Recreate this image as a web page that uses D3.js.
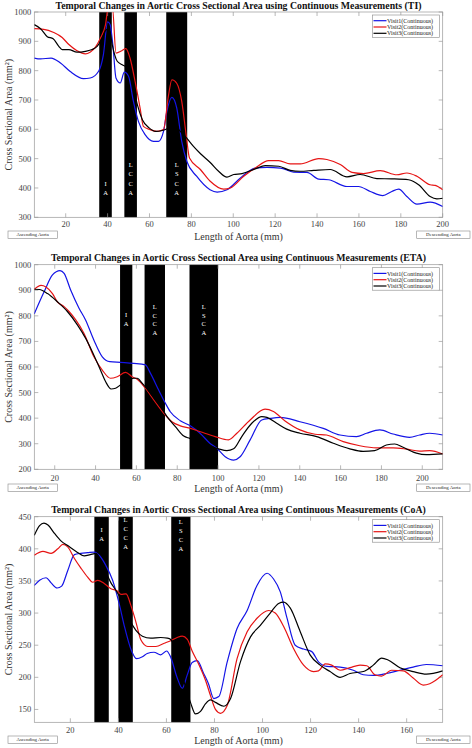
<!DOCTYPE html>
<html><head><meta charset="utf-8">
<script src="https://cdn.jsdelivr.net/npm/d3@7"></script>
<style>body{margin:0;background:#fff}svg{display:block}</style>
</head><body><svg id="c" width="472" height="748"></svg>
<script>
// ---------- DATA ----------
const seriesNames = ["Visit1(Continuous)", "Visit2(Continuous)", "Visit3(Continuous)"];
const xAxisLabel = "Length of Aorta (mm)";
const yAxisLabel = "Cross Sectional Area (mm²)";
const startLabel = "Ascending Aorta";
const endLabel = "Descending Aorta";

// Panel 1 (TI)
const tiTitle = "Temporal Changes in Aortic Cross Sectional Area using Continuous Measurements (TI)";
const tiXDomain = [5, 200];
const tiYDomain = [300, 1000];
const tiXTicks = [20, 40, 60, 80, 100, 120, 140, 160, 180, 200];
const tiYTicks = [300, 400, 500, 600, 700, 800, 900, 1000];
const tiBranches = [["IA", 36, 42], ["LCCA", 48, 54], ["LSCA", 68, 78]];
const tiVisit1 = [[5,843],[8,840],[13,843],[17.5,826],[22,798],[28.5,773],[31.7,775],[35.7,798],[38,855],[40,966],[41.2,957],[42.5,889],[44,775],[46,758],[48,795],[50,781],[52.3,696],[54.7,627],[57.9,582],[61.9,559],[64.3,559],[66.7,593],[68.3,661],[70.7,709],[73,673],[75.4,559],[77.8,491],[82.5,440],[88.9,394],[92.3,386],[97,394],[103.4,434],[110.5,468],[116.1,470],[122.5,468],[128.8,454],[135.2,453],[140.8,430],[145.5,428],[154.3,405],[159.8,405],[165.4,388],[171.4,374],[175.7,388],[179,396],[182.9,371],[187.7,345],[194,352],[200,337]];
const tiVisit2 = [[5,943],[9.5,941],[14.3,930],[18.3,913],[21.5,889],[25.4,868],[29.4,857],[31.8,864],[34.2,880],[36.6,911],[39,957],[40.3,1015],[42.3,1015],[44,860],[46.8,868],[48.7,875],[50.7,843],[53.1,764],[55.5,673],[57.1,610],[60.3,599],[63.5,593],[66.7,599],[69,712],[70.7,769],[73,757],[75.4,695],[77.5,582],[79.1,502],[84.3,463],[89,423],[95.4,396],[98.6,400],[105,440],[110.5,468],[116.9,493],[121.7,493],[127.2,482],[132,482],[140.8,500],[144.7,497],[151.1,480],[156.7,453],[162.2,449],[170.2,459],[178.1,445],[182.9,451],[187.7,440],[194,411],[196.4,409],[200,394]];
const tiVisit3 = [[5,957],[8,943],[11.2,916],[14,909],[16.7,883],[18.3,872],[21.5,872],[25.4,863],[29.4,866],[32.6,872],[35,883],[37.4,911],[39.5,940],[41,935],[42.2,889],[44.6,832],[47,820],[49.5,809],[51.8,764],[54.2,684],[56.6,633],[59.8,605],[63,593],[66,596],[68.4,602],[71.5,616],[74.7,593],[77.8,570],[81,542],[84.5,516],[89,487],[93,457],[97,437],[100.2,446],[104.2,449],[110.5,465],[115.3,476],[121.7,474],[127.2,460],[132,457],[138.4,460],[146.3,463],[154.3,438],[160.6,446],[168.6,432],[175.7,431],[183.7,428],[188.5,411],[194,371],[197.2,363],[200,365]];

// Panel 2 (ETA)
const etaTitle = "Temporal Changes in Aortic Cross Sectional Area using Continuous Measurements (ETA)";
const etaXDomain = [10, 210];
const etaYDomain = [200, 1000];
const etaXTicks = [20, 40, 60, 80, 100, 120, 140, 160, 180, 200];
const etaYTicks = [200, 300, 400, 500, 600, 700, 800, 900, 1000];
const etaBranches = [["IA", 52, 58], ["LCCA", 64, 74], ["LSCA", 86, 100]];
const etaVisit1 = [[10,808],[14.8,894],[18.9,960],[22.6,977],[24.6,966],[27.8,901],[31.9,830],[35.1,784],[39.2,705],[43.3,640],[47,621],[52.2,618],[58.7,614],[64.4,608],[66.9,575],[70.9,510],[74.2,458],[76.6,425],[81.5,390],[86.4,370],[91.3,340],[96.1,301],[99.4,282],[103.5,249],[107.6,236],[110.8,249],[115.7,315],[121.4,393],[125.5,399],[130.4,403],[140.1,386],[151.5,360],[159.7,334],[167.8,328],[172.7,341],[179.2,354],[185.7,338],[193.8,325],[198.7,334],[203.6,341],[210,334]];
const etaVisit2 = [[10,904],[13.3,919],[15.7,913],[18.9,887],[21.3,855],[24.6,836],[27,817],[30.3,784],[34.3,732],[39.2,640],[43.3,588],[47.3,556],[50.6,562],[54.7,579],[57.9,562],[60.4,552],[64.4,517],[68.5,471],[73.4,419],[77.4,386],[81.5,370],[86.4,360],[91.3,347],[98.6,328],[105.1,315],[109.2,341],[115.7,393],[123,435],[127.1,426],[132.8,389],[140.1,354],[147.5,337],[153.1,334],[161.3,308],[169.4,292],[177.6,284],[185.7,284],[192.2,279],[198.7,271],[203.6,273],[210,260]];
const etaVisit3 = [[10,904],[12.5,903],[16.5,887],[21.3,855],[26.2,817],[31.1,765],[35.1,713],[38.4,660],[42.4,588],[44.9,543],[47.6,514],[49.8,517],[52.2,530],[55,545],[58.7,556],[60.4,556],[62.8,537],[66.9,497],[71.8,445],[75,406],[79.1,367],[83.2,330],[86.1,321],[93,300],[100.2,280],[104.3,273],[107.6,280],[111.6,328],[116.5,380],[121.4,406],[123.9,403],[128.7,380],[133.6,357],[140.1,341],[148.3,328],[156.4,302],[164.5,280],[171,270],[176.7,273],[182.4,295],[186.5,299],[190.6,286],[197.1,263],[202,257],[210,260]];

// Panel 3 (CoA)
const coaTitle = "Temporal Changes in Aortic Cross Sectional Area using Continuous Measurements (CoA)";
const coaXDomain = [5, 175];
const coaYDomain = [130, 450];
const coaXTicks = [20, 40, 60, 80, 100, 120, 140, 160];
const coaYTicks = [150, 200, 250, 300, 350, 400, 450];
const coaBranches = [["IA", 30, 36], ["LCCA", 40, 46], ["LSCA", 62, 70]];
const coaVisit1 = [[5,343],[7.2,351],[9.9,355],[12,347],[14.5,339],[16.4,342],[18.9,366],[21.7,391],[24.4,393],[27.2,394],[30,395],[32,390],[34.8,374],[37.6,351],[40.3,315],[42.4,281],[45.1,245],[47.6,229],[50,232],[52,237],[54.8,239],[57.6,235],[60.1,241],[61.7,232],[64.5,199],[66.6,183],[68.6,203],[70.7,223],[72.8,226],[75.5,206],[77.5,190],[79.7,167],[81.8,170],[85.3,224],[89.4,276],[93.6,304],[97.7,343],[101.9,362],[104.6,353],[107.4,333],[110.2,292],[113.6,250],[117.1,244],[120.5,240],[123.3,224],[126.8,217],[132.3,216],[137.8,211],[142,204],[146.1,203],[151.7,206],[157.2,211],[162.7,216],[168.2,220],[175,218]];
const coaVisit2 = [[5,390],[8.6,396],[12,393],[14.8,400],[16.9,407],[18.9,403],[21.7,385],[24.4,370],[27.2,356],[29.3,348],[31.4,351],[34.1,346],[36.9,338],[39.7,334],[41.1,329],[43.2,330],[45.2,312],[47.3,286],[49.4,258],[52.2,248],[55.6,248],[59.1,253],[61.8,257],[64.5,262],[66.6,264],[68.7,259],[70.7,241],[73.5,220],[76.3,195],[78.3,172],[80.4,150],[82.5,144],[85.3,156],[89.4,229],[93.6,271],[97.7,292],[102.6,304],[105.3,300],[108.8,279],[112.9,245],[117.1,219],[121.2,209],[123.3,210],[126.1,221],[128.8,219],[132.3,211],[136.4,215],[140.6,219],[143.4,218],[146.8,204],[149.6,202],[153.7,211],[158.6,210],[162.7,199],[166.9,188],[169.6,190],[175,204]];
const coaVisit3 = [[5,421],[7.2,436],[9,440],[10.7,437],[13.4,424],[16.2,412],[18.9,405],[22.4,396],[25.8,389],[28.3,391],[30.7,393],[33.5,375],[36.9,347],[39.4,333],[41.7,317],[44.5,291],[47.3,273],[50,264],[53.5,261],[57.6,262],[60.4,261],[61.8,259],[66,210],[70,161],[72.1,143],[74.2,147],[76.3,159],[78.3,165],[80.4,161],[83.9,155],[86.7,167],[90.8,224],[95,263],[99.1,281],[103.2,300],[106.7,315],[108.8,317],[111.5,308],[115.7,271],[119.8,235],[124,219],[128.1,209],[132.3,200],[136.4,206],[142,209],[146.1,219],[149.6,230],[152.3,227],[157.2,215],[162.7,209],[168.2,205],[175,210]];

// ---------- LAYOUT ----------
const colors = ["#1414e6", "#e61414", "#000000"];
const serif = "'Liberation Serif','DejaVu Serif',serif";
const left = 34.3, right = 442.7;
const panels = [
  {title: tiTitle, xd: tiXDomain, yd: tiYDomain, xt: tiXTicks, yt: tiYTicks, br: tiBranches, s: [tiVisit1, tiVisit2, tiVisit3],
   top: 12, bottom: 217.3, titleY: 8.7, tickY: 227.3, labY: 239.5, boxY: 231, brTop: [171.3, 153, 153], brStep: 9.2},
  {title: etaTitle, xd: etaXDomain, yd: etaYDomain, xt: etaXTicks, yt: etaYTicks, br: etaBranches, s: [etaVisit1, etaVisit2, etaVisit3],
   top: 264.7, bottom: 469.3, titleY: 260.6, tickY: 480.7, labY: 491.5, boxY: 484, brTop: [50.3, 42, 42], brStep: 8.7},
  {title: coaTitle, xd: coaXDomain, yd: coaYDomain, xt: coaXTicks, yt: coaYTicks, br: coaBranches, s: [coaVisit1, coaVisit2, coaVisit3],
   top: 516.7, bottom: 722.3, titleY: 513.3, tickY: 733, labY: 744, boxY: 736, brTop: [13.5, 3, 5], brStep: 9}
];

const svg = d3.select("#c");
panels.forEach((p, pi) => {
  const x = d3.scaleLinear().domain(p.xd).range([left, right]);
  const y = d3.scaleLinear().domain(p.yd).range([p.bottom, p.top]);
  const g = svg.append("g");
  const clipId = "clip" + pi;
  g.append("clipPath").attr("id", clipId).append("rect")
    .attr("x", left).attr("y", p.top).attr("width", right - left).attr("height", p.bottom - p.top);

  // title
  g.append("text").attr("x", (left + right) / 2).attr("y", p.titleY).attr("text-anchor", "middle")
    .attr("font-family", serif).attr("font-weight", "bold").attr("font-size", 9.8).attr("fill", "#111").text(p.title);

  // branch bars
  const bars = g.append("g");
  p.br.forEach((b, bi) => {
    bars.append("rect").attr("x", x(b[1])).attr("y", p.top).attr("width", x(b[2]) - x(b[1])).attr("height", p.bottom - p.top).attr("fill", "#000");
    b[0].split("").forEach((ch, ci) => {
      bars.append("text").attr("x", (x(b[1]) + x(b[2])) / 2).attr("y", p.top + p.brTop[bi] + ci * p.brStep)
        .attr("dy", "0.35em").attr("text-anchor", "middle").attr("font-family", serif).attr("font-size", 6.5)
        .attr("fill", "#fff").text(ch);
    });
  });

  // frame + ticks
  const frame = g.append("g").attr("stroke", "#999").attr("stroke-width", 0.7).attr("fill", "none");
  frame.append("rect").attr("x", left).attr("y", p.top).attr("width", right - left).attr("height", p.bottom - p.top);
  const tl = 4;
  p.xt.forEach(t => {
    frame.append("line").attr("x1", x(t)).attr("x2", x(t)).attr("y1", p.bottom).attr("y2", p.bottom - tl);
    frame.append("line").attr("x1", x(t)).attr("x2", x(t)).attr("y1", p.top).attr("y2", p.top + tl);
  });
  p.yt.forEach(t => {
    frame.append("line").attr("x1", left).attr("x2", left + tl).attr("y1", y(t)).attr("y2", y(t));
    frame.append("line").attr("x1", right).attr("x2", right - tl).attr("y1", y(t)).attr("y2", y(t));
  });
  // tick labels
  g.selectAll(null).data(p.xt).join("text").attr("x", d => x(d)).attr("y", p.tickY).attr("text-anchor", "middle")
    .attr("font-family", serif).attr("font-size", 8.5).attr("fill", "#444").text(d => d);
  g.selectAll(null).data(p.yt).join("text").attr("x", left - 3).attr("y", d => y(d)).attr("dy", "0.35em").attr("text-anchor", "end")
    .attr("font-family", serif).attr("font-size", 8.5).attr("fill", "#444").text(d => d);

  // axis labels
  g.append("text").attr("x", (left + right) / 2).attr("y", p.labY).attr("text-anchor", "middle")
    .attr("font-family", serif).attr("font-size", 10).attr("fill", "#333").text(xAxisLabel);
  g.append("text").attr("transform", `translate(11.5,${(p.top + p.bottom) / 2}) rotate(-90)`).attr("text-anchor", "middle")
    .attr("font-family", serif).attr("font-size", 10).attr("fill", "#333").text(yAxisLabel);

  // start / end boxes
  [[startLabel, 8, 57.3], [endLabel, 416.7, 470]].forEach(bx => {
    g.append("rect").attr("x", bx[1]).attr("y", p.boxY).attr("width", bx[2] - bx[1]).attr("height", 7.3)
      .attr("fill", "#fff").attr("stroke", "#888").attr("stroke-width", 0.6);
    g.append("text").attr("x", (bx[1] + bx[2]) / 2).attr("y", p.boxY + 3.8).attr("dy", "0.35em").attr("text-anchor", "middle")
      .attr("font-family", serif).attr("font-size", 4.8).attr("fill", "#222").text(bx[0]);
  });

  // series lines
  const line = d3.line().x(d => x(d[0])).y(d => y(d[1])).curve(d3.curveMonotoneX);
  const lines = g.append("g").attr("clip-path", `url(#${clipId})`);
  p.s.forEach((data, si) => {
    lines.append("path").datum(data).attr("d", line).attr("fill", "none").attr("stroke", colors[si]).attr("stroke-width", 1.2);
  });

  // legend
  const lg = g.append("g");
  const lx0 = 372.5, lx1 = 439.3, ly0 = p.top + 3;
  lg.append("rect").attr("x", lx0).attr("y", ly0).attr("width", lx1 - lx0).attr("height", 22.5)
    .attr("fill", "#fff").attr("stroke", "#888").attr("stroke-width", 0.6);
  seriesNames.forEach((n, i) => {
    const yy = ly0 + 5.7 + i * 6.3;
    lg.append("line").attr("x1", lx0 + 1).attr("x2", lx0 + 14).attr("y1", yy).attr("y2", yy).attr("stroke", colors[i]).attr("stroke-width", 1.2);
    lg.append("text").attr("x", lx0 + 14.5).attr("y", yy).attr("dy", "0.35em").attr("font-family", serif).attr("font-size", 6)
      .attr("fill", "#222").text(n);
  });
});
</script></body></html>
